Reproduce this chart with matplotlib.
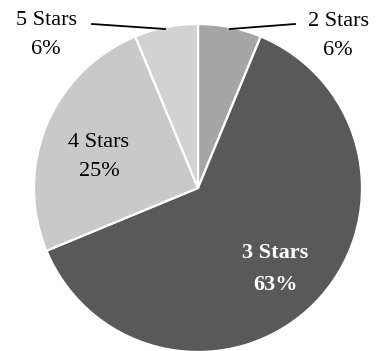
import numpy as np
import matplotlib.pyplot as plt

labels = ["2 Stars", "3 Stars", "4 Stars", "5 Stars"]
counts = [1, 10, 4, 1]
colors = ["#a6a6a6", "#595959", "#c9c9c9", "#d2d2d2"]

W, H = 381, 351
fig = plt.figure(figsize=(W / 100, H / 100), dpi=100)
ax = fig.add_axes([0, 0, 1, 1])

cx, cy, r = 198, H - 188, 164
ax.pie(counts, colors=colors, startangle=90, counterclock=False,
       center=(cx, cy), radius=r, frame=True,
       wedgeprops=dict(edgecolor="white", linewidth=1.6))
ax.set_xlim(0, W)
ax.set_ylim(0, H)
ax.set_aspect("equal")
ax.axis("off")

# round half up like the original (62.5 -> 63)
pct = [int(np.floor(100 * c / sum(counts) + 0.5)) for c in counts]
txt = [f"{l}\n{p}%" for l, p in zip(labels, pct)]
font = dict(family="Liberation Serif", fontsize=16, ha="center", va="center",
            linespacing=1.75)

# outside labels with leader lines
ax.text(338, H - 36, txt[0], color="black", **font)
ax.plot([230, 295], [H - 29, H - 24], color="black", lw=1.3)
ax.text(46, H - 35, txt[3], color="black", **font)
ax.plot([165, 92], [H - 29, H - 24], color="black", lw=1.3)

# inside labels
ax.text(99, H - 157, txt[2], color="black", **font)
ax.text(275, H - 269, txt[1], color="white", fontweight="bold", **font)

fig.savefig("out.png", dpi=100)
